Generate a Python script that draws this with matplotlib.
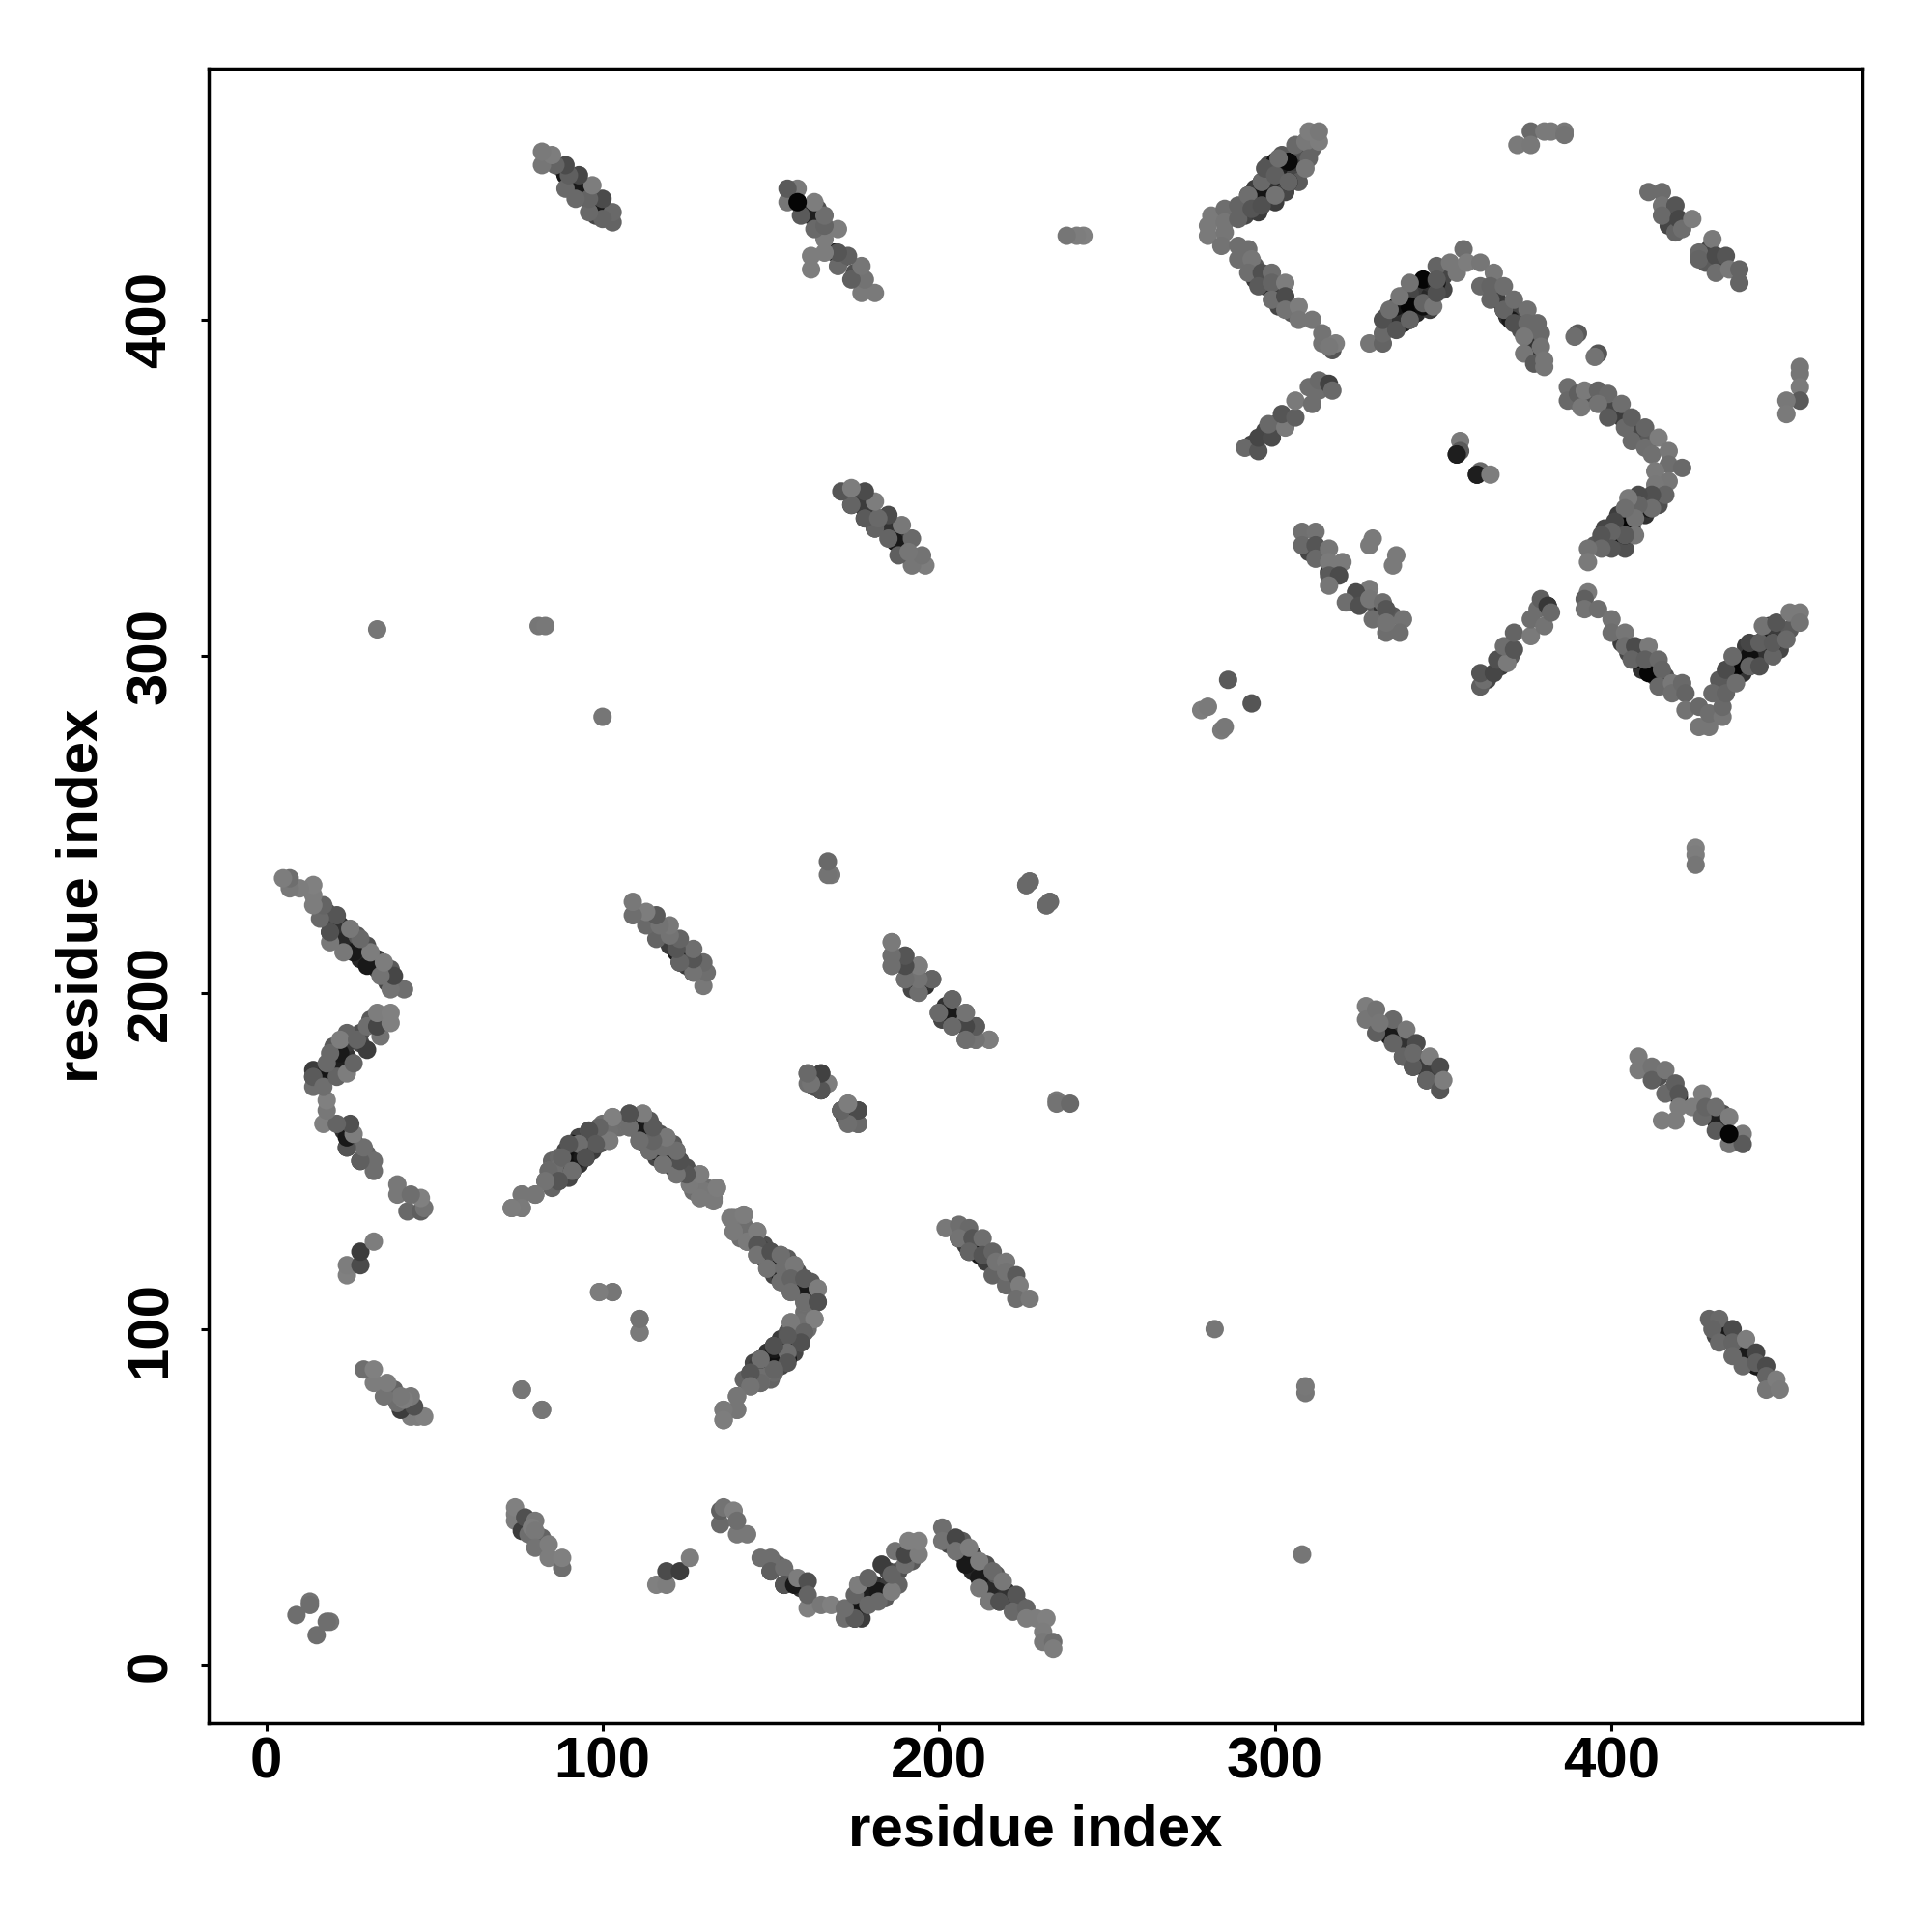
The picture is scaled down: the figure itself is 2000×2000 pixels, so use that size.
import matplotlib
matplotlib.use("Agg")
import matplotlib.pyplot as plt

plt.rcParams['font.family'] = ['Liberation Sans', 'DejaVu Sans']
plt.rcParams['font.weight'] = 'bold'

# contacts as (residue i, residue j, grey level)
# these blocks sit below the diagonal and are mirrored into the upper half
under_hairpin = [(89, 146, 60), (89, 150, 50), (89, 153, 70), (93, 149, 50), (93, 153, 40), (93, 156, 70), (97, 153, 60),
                 (97, 157, 70), (101, 158, 90), (105, 160, 110), (86, 148, 80), (85, 150, 100), (110, 161, 90),
                 (113, 157, 50), (116, 155, 60), (113, 161, 90), (117, 154, 60), (120, 150, 50), (121, 155, 90),
                 (124, 147, 70), (127, 144, 100), (127, 141, 110), (131, 142, 110), (148, 121, 60), (151, 120, 40),
                 (151, 116, 70), (155, 116, 50), (155, 113, 60), (158, 112, 40), (158, 117, 80), (162, 110, 60),
                 (162, 114, 90), (148, 125, 80), (144, 128, 110), (141, 130, 120), (158, 100, 100), (157, 97, 70),
                 (153, 96, 60), (153, 92, 40), (149, 93, 50), (149, 89, 60), (145, 90, 70), (145, 86, 70),
                 (157, 93, 70), (161, 100, 110), (142, 85, 100)]
under_low = [(177, 14, 60), (173, 16, 80), (177, 18, 50), (177, 22, 60), (181, 20, 40), (181, 24, 50), (185, 24, 60),
             (185, 28, 70), (184, 20, 90), (188, 28, 80), (188, 24, 100), (192, 34, 90), (192, 31, 90), (203, 36, 70),
             (207, 33, 50), (207, 37, 90), (210, 33, 60), (210, 28, 40), (214, 30, 80), (214, 25, 40), (217, 22, 40),
             (217, 27, 90), (221, 20, 70), (220, 22, 50), (224, 18, 80), (152, 30, 100), (156, 26, 70), (159, 23, 50),
             (78, 42, 70), (82, 38, 100)]
under_strands = [(333, 189, 60), (336, 188, 60), (339, 184, 50), (343, 180, 50), (347, 177, 60), (344, 178, 60),
                 (434, 98, 50), (438, 94, 50), (441, 91, 50), (445, 88, 70), (431, 98, 70), (414, 175, 80),
                 (418, 171, 70), (433, 160, 60), (433, 164, 80), (429, 165, 90), (208, 125, 60), (211, 125, 50),
                 (214, 120, 60), (218, 118, 90), (222, 115, 100), (188, 209, 70), (192, 206, 60), (196, 202, 50),
                 (192, 201, 70), (206, 192, 60), (209, 188, 70), (163, 174, 70), (163, 172, 80)]
block_corner = [(15, 9, 110), (19, 13, 115), (18, 13, 110)]
block_b = [(74, 45, 125), (74, 43, 125), (76, 40, 60), (78, 39, 110), (74, 47, 128), (77, 44, 80), (80, 43, 120),
           (79, 41, 125), (80, 40, 120), (80, 35, 115), (84, 36, 125), (84, 32, 125), (88, 29, 110), (88, 32, 128)]
block_c = [(116, 24, 128), (119, 24, 125), (119, 28, 75), (123, 28, 60), (126, 32, 125)]
block_d = [(135, 42, 105), (135, 46, 95), (136, 47, 115), (139, 46, 128), (140, 39, 120), (143, 39, 120), (140, 43, 110)]
block_e = [(150, 28, 30), (154, 24, 30), (147, 32, 110), (150, 32, 110), (150, 28, 95), (154, 29, 110), (154, 24, 85),
           (157, 24, 25), (158, 26, 125), (161, 25, 80), (161, 17, 128), (161, 21, 100), (165, 18, 120), (168, 18, 128)]
block_f = [(175, 14, 25), (175, 17, 20), (179, 21, 30), (182, 22, 25), (183, 30, 60), (172, 14, 110), (175, 14, 90),
           (172, 17, 110), (175, 21, 100), (176, 24, 125), (179, 18, 105), (182, 19, 105), (179, 26, 100),
           (186, 22, 125), (186, 27, 100), (187, 34, 115), (190, 30, 110), (190, 33, 70), (194, 33, 125),
           (191, 37, 128), (194, 37, 128)]
block_g = [(208, 30, 25), (212, 26, 25), (215, 22, 40), (218, 19, 30), (201, 41, 110), (201, 37, 115), (205, 38, 70),
           (205, 34, 115), (209, 35, 125), (212, 23, 120), (212, 31, 125), (216, 28, 105), (219, 25, 120),
           (215, 19, 120), (218, 19, 80), (223, 21, 85), (222, 16, 105), (226, 17, 100), (226, 14, 125),
           (229, 14, 125), (232, 14, 128), (231, 10, 125), (231, 7, 120), (234, 7, 110), (234, 5, 125)]
block_h = [(91, 150, 20), (91, 155, 20), (95, 151, 30), (112, 159, 25), (115, 153, 25), (118, 152, 25), (73, 136, 128), (76, 136, 122),
           (76, 140, 122), (80, 140, 120), (83, 144, 115), (87, 144, 85), (84, 147, 120), (87, 151, 105),
           (87, 148, 110), (91, 147, 120), (95, 155, 110), (96, 159, 95), (99, 155, 85), (99, 160, 125),
           (102, 156, 125), (103, 163, 125), (108, 160, 120), (108, 164, 80), (112, 164, 125), (111, 158, 100),
           (115, 160, 100), (111, 156, 110), (114, 153, 110), (119, 157, 122), (118, 149, 110), (122, 153, 110),
           (123, 150, 85), (122, 146, 115), (125, 146, 85), (129, 146, 125), (126, 143, 115), (129, 139, 122),
           (134, 142, 125), (133, 139, 120)]
block_i = [(150, 119, 25), (153, 118, 25), (157, 114, 25), (160, 110, 25), (138, 133, 122), (142, 134, 125), (139, 129, 122),
           (143, 126, 122), (146, 129, 125), (146, 125, 85), (146, 122, 115), (150, 123, 80), (149, 118, 115),
           (153, 122, 110), (153, 114, 110), (154, 118, 110), (157, 119, 120), (156, 115, 100), (156, 111, 110),
           (160, 115, 90), (164, 112, 125), (160, 108, 110), (164, 108, 80)]
block_j = [(147, 91, 25), (151, 90, 15), (155, 91, 20), (151, 94, 25), (155, 94, 25), (159, 102, 112), (163, 103, 128), (156, 102, 122),
           (160, 99, 100), (159, 96, 80), (155, 98, 90), (155, 93, 110), (155, 90, 85), (151, 95, 80), (151, 88, 100),
           (147, 91, 110), (147, 84, 105), (144, 87, 85), (144, 83, 115), (140, 80, 118), (140, 76, 118),
           (136, 76, 122), (136, 73, 125)]
block_k = [(99, 111, 122), (103, 111, 115), (111, 103, 118), (111, 99, 125), (76, 82, 118), (82, 76, 118)]
block_l = [(165, 173, 25), (171, 165, 30), (161, 176, 105), (165, 176, 75), (161, 173, 110), (165, 171, 100), (167, 173, 125),
           (173, 167, 125), (171, 165, 85), (176, 165, 65), (173, 162, 115), (176, 161, 105)]
block_m = [(194, 203, 25), (204, 194, 25), (186, 215, 125), (186, 211, 115), (190, 211, 90), (190, 208, 70), (186, 208, 110),
           (194, 208, 115), (190, 204, 105), (194, 200, 105), (198, 204, 100), (204, 198, 100), (200, 194, 110),
           (204, 194, 115), (208, 194, 125), (204, 190, 110), (208, 190, 75), (211, 190, 85), (208, 186, 110),
           (211, 186, 110), (215, 186, 122)]
block_n = [(227, 233, 105), (226, 232, 105), (233, 227, 105), (232, 226, 105), (235, 168, 120), (235, 167, 115), (239, 167, 105)]
block_o = [(206, 127, 25), (209, 123, 25), (212, 122, 25), (202, 130, 120), (206, 131, 110), (209, 130, 105), (206, 127, 115),
           (210, 127, 85), (213, 127, 110), (209, 123, 100), (213, 122, 85), (216, 123, 100), (216, 116, 100),
           (217, 120, 115), (220, 120, 120), (220, 113, 105), (220, 117, 115), (223, 116, 90), (224, 113, 125),
           (223, 109, 110), (227, 109, 120)]
block_p = [(334, 187, 25), (338, 181, 25), (341, 178, 25), (345, 174, 25), (327, 196, 125), (327, 192, 118), (330, 195, 115), (330, 188, 95),
           (335, 192, 105), (331, 191, 118), (335, 185, 100), (339, 189, 120), (338, 181, 100), (342, 185, 75),
           (341, 178, 90), (341, 182, 105), (346, 181, 125), (345, 174, 100), (349, 178, 75), (349, 171, 85),
           (350, 174, 125)]
block_q = [(420, 169, 25), (431, 162, 30), (435, 158, 5), (408, 181, 122), (408, 177, 122), (412, 178, 115), (412, 174, 95),
           (416, 177, 118), (416, 170, 105), (419, 173, 95), (420, 170, 85), (420, 166, 125), (415, 162, 125),
           (419, 162, 125), (424, 166, 125), (427, 170, 125), (427, 163, 105), (428, 166, 100), (431, 166, 110),
           (431, 159, 90), (435, 155, 118), (439, 158, 122), (439, 155, 90), (435, 163, 125), (435, 158, 5)]
block_r = [(432, 99, 25), (436, 96, 25), (439, 92, 25), (443, 89, 25), (429, 103, 100), (432, 103, 105), (430, 100, 100), (432, 96, 105),
           (436, 100, 75), (436, 96, 100), (436, 92, 105), (439, 89, 105), (440, 97, 125), (443, 93, 70),
           (443, 90, 95), (446, 89, 75), (446, 86, 100), (446, 82, 118), (449, 85, 125), (450, 82, 122)]
block_s = [(308, 33, 118), (282, 100, 118), (309, 81, 118), (309, 83, 120), (425, 243, 128), (425, 241, 125), (425, 238, 118)]

# upper right quadrant, read on both sides of the diagonal, not mirrored
quad_under = [(294, 435, 40), (294, 439, 60), (298, 438, 40), (298, 442, 50), (298, 446, 80), (302, 440, 40),
              (302, 445, 30), (302, 449, 90), (306, 443, 70), (306, 447, 60), (308, 450, 80), (307, 441, 90),
              (291, 431, 70), (295, 432, 60), (300, 435, 60), (303, 438, 70), (311, 451, 100),
              (334, 398, 60), (338, 399, 30), (338, 403, 40), (338, 407, 70), (342, 402, 40), (342, 406, 30),
              (342, 410, 60), (346, 407, 40), (346, 411, 50), (346, 403, 60), (350, 409, 70), (350, 413, 70),
              (333, 401, 90), (336, 400, 50), (340, 408, 70),
              (398, 333, 60), (402, 334, 50), (402, 338, 30), (406, 338, 50), (406, 342, 40), (410, 342, 50),
              (410, 346, 40), (398, 338, 70), (402, 342, 60), (414, 348, 90), (414, 345, 80), (406, 345, 60),
              (404, 332, 80), (395, 333, 90),
              (435, 292, 70), (436, 296, 40), (439, 295, 50), (439, 299, 30), (443, 299, 40), (443, 302, 30),
              (446, 302, 40), (446, 306, 30), (450, 306, 60), (450, 302, 70), (447, 309, 60), (453, 308, 90),
              (432, 293, 90), (440, 303, 60), (444, 300, 50),
              (403, 304, 60), (405, 301, 70), (408, 301, 50), (409, 296, 50), (412, 297, 40), (413, 294, 60),
              (416, 294, 80), (366, 406, 60), (369, 401, 50), (372, 402, 70), (373, 397, 80), (376, 397, 90),
              (377, 392, 50), (294, 412, 60), (297, 410, 40), (301, 408, 60), (301, 404, 70), (305, 402, 90),
              (294, 416, 90), (290, 420, 100), (400, 373, 70), (403, 371, 60), (407, 366, 70), (411, 364, 90),
              (394, 377, 80), (389, 376, 90), (310, 331, 70), (314, 330, 60), (318, 326, 60), (326, 317, 50),
              (330, 315, 90), (335, 312, 90), (297, 367, 70), (300, 369, 90), (293, 363, 70), (363, 293, 70),
              (367, 297, 60), (370, 300, 90), (417, 433, 60), (417, 428, 70), (429, 421, 70), (433, 417, 70),
              (428, 417, 90)]
quad_dark = [(300, 447, 20), (304, 447, 10), (304, 441, 20), (296, 437, 20), (296, 441, 25), (292, 437, 25),
             (336, 404, 20), (340, 404, 5), (344, 412, 5), (340, 400, 20), (344, 404, 15), (348, 411, 25),
             (370, 400, 25), (368, 403, 15), (404, 340, 5), (408, 344, 25), (400, 336, 15), (404, 336, 15),
             (411, 344, 25), (381, 315, 10), (315, 381, 15), (354, 360, 20), (360, 354, 20), (411, 295, 5),
             (407, 299, 15), (415, 292, 20), (437, 297, 5), (441, 300, 15), (444, 304, 10), (448, 304, 5),
             (441, 297, 20), (316, 325, 40), (324, 316, 30), (332, 314, 50)]
quad_arm_up = [(280, 428, 122), (280, 425, 122), (281, 431, 122), (285, 433, 110), (285, 429, 118), (285, 426, 118),
               (284, 422, 115), (289, 434, 100), (289, 430, 100), (292, 437, 110), (293, 433, 85), (296, 434, 80),
               (296, 441, 105), (297, 445, 85), (300, 443, 95), (300, 437, 115), (301, 448, 110), (304, 441, 100),
               (306, 452, 105), (309, 453, 120), (310, 448, 100), (309, 445, 118), (313, 453, 125), (310, 456, 125),
               (313, 456, 120)]
quad_arm_down = [(289, 422, 110), (292, 421, 110), (289, 418, 110), (293, 418, 118), (292, 414, 110), (296, 414, 80),
                 (299, 414, 110), (295, 410, 90), (299, 411, 100), (303, 411, 125), (299, 406, 110), (303, 407, 75),
                 (303, 403, 115), (307, 404, 125), (307, 400, 118), (311, 400, 118), (314, 396, 115), (314, 393, 115),
                 (317, 391, 85), (318, 393, 125), (316, 392, 120)]
quad_peak = [(328, 393, 118), (332, 393, 100), (332, 396, 105), (332, 400, 80), (336, 397, 85), (334, 403, 110),
             (337, 407, 118), (340, 400, 100), (340, 411, 115), (344, 405, 100), (347, 404, 118), (348, 408, 80),
             (348, 416, 100), (348, 412, 90), (352, 417, 120), (354, 414, 120), (356, 421, 110), (357, 417, 125),
             (361, 417, 118), (361, 410, 105), (365, 414, 120), (364, 410, 100), (368, 410, 110), (364, 406, 100),
             (368, 403, 100), (371, 406, 110), (375, 403, 112), (371, 399, 80), (378, 399, 105), (375, 399, 105),
             (379, 396, 105), (374, 395, 120), (374, 390, 118), (379, 392, 115), (377, 387, 90), (380, 388, 118),
             (380, 386, 118)]
quad_spots = [(390, 396, 90), (389, 395, 110), (396, 390, 85), (395, 389, 115), (376, 456, 105), (372, 452, 122),
              (376, 452, 120), (380, 456, 122), (382, 456, 122), (386, 456, 120), (386, 455, 115), (456, 386, 118),
              (456, 384, 118), (456, 380, 122), (456, 376, 90), (452, 376, 120), (452, 372, 122), (355, 364, 122),
              (355, 361, 90), (354, 360, 30), (361, 355, 105), (360, 354, 30), (364, 354, 125), (329, 335, 122),
              (328, 333, 122), (336, 330, 122), (335, 327, 122)]
quad_ne = [(411, 438, 108), (415, 438, 108), (415, 434, 115), (419, 434, 85), (415, 431, 105), (419, 426, 100),
           (420, 430, 70), (421, 427, 110), (424, 430, 125), (426, 420, 105), (426, 418, 100), (430, 424, 122),
           (431, 419, 75), (434, 419, 85), (431, 414, 110), (435, 415, 120), (438, 415, 100), (438, 411, 100)]
quad_arm_low = [(291, 362, 105), (295, 361, 85), (295, 365, 70), (299, 365, 75), (298, 369, 105), (303, 368, 122),
                (302, 372, 85), (306, 371, 95), (306, 376, 122), (311, 375, 110), (310, 380, 110), (313, 379, 110),
                (313, 382, 105), (316, 381, 65), (317, 379, 105)]
quad_arm_right = [(361, 291, 95), (362, 293, 110), (361, 295, 85), (365, 295, 70), (366, 299, 80), (369, 298, 122),
                  (368, 303, 110), (371, 302, 85), (371, 307, 100), (376, 306, 122), (376, 311, 110), (378, 314, 110),
                  (380, 309, 115), (379, 317, 95), (381, 315, 55), (382, 313, 105)]
quad_limb = [(387, 380, 110), (387, 376, 105), (390, 378, 95), (391, 374, 120), (392, 379, 122), (396, 379, 100),
             (399, 378, 105), (396, 375, 115), (399, 371, 90), (403, 375, 110), (404, 368, 105), (406, 371, 95),
             (406, 364, 105), (410, 368, 100), (410, 362, 110), (414, 365, 125), (412, 360, 112), (417, 361, 120),
             (417, 357, 110), (421, 356, 105), (413, 355, 122), (417, 352, 118), (413, 351, 120), (416, 348, 100),
             (412, 348, 80), (412, 344, 110), (408, 348, 75), (408, 345, 100), (405, 347, 122), (407, 341, 115),
             (404, 344, 110), (401, 340, 70), (407, 336, 118), (404, 336, 90), (400, 337, 100), (397, 336, 85),
             (400, 332, 85), (397, 332, 105), (393, 332, 115), (393, 328, 122)]
quad_cross = [(308, 337, 112), (312, 337, 115), (308, 333, 105), (312, 333, 85), (312, 329, 105), (316, 332, 118),
              (316, 328, 122), (320, 328, 122), (316, 324, 90), (319, 324, 75), (316, 321, 118), (328, 320, 122),
              (324, 319, 75), (321, 316, 110), (325, 315, 80), (328, 317, 118), (332, 316, 110), (329, 311, 110),
              (333, 314, 85), (338, 311, 115), (333, 307, 110), (337, 307, 110), (333, 310, 115)]
quad_v = [(393, 319, 122), (392, 317, 95), (392, 314, 115), (396, 314, 110), (400, 311, 115), (400, 307, 110),
          (404, 307, 118), (404, 303, 110), (407, 303, 75), (411, 303, 122), (406, 299, 100), (410, 299, 95),
          (414, 299, 105), (415, 296, 100), (414, 291, 105), (418, 292, 120), (418, 289, 110), (421, 292, 105),
          (422, 289, 100), (422, 284, 115), (426, 285, 105), (426, 279, 118), (429, 279, 118), (429, 283, 110),
          (433, 282, 118), (433, 285, 105), (430, 289, 105), (434, 289, 100), (434, 296, 75), (437, 292, 110),
          (436, 300, 105), (441, 297, 100), (441, 304, 70), (444, 297, 80), (444, 304, 95), (448, 300, 100),
          (445, 309, 115), (448, 304, 90), (452, 305, 105), (449, 310, 85), (453, 313, 122), (456, 313, 122),
          (456, 310, 115)]
quad_four = [(286, 293, 90), (293, 286, 85), (278, 284, 125), (280, 285, 122), (284, 278, 122), (285, 279, 120)]

mirrored_blocks = [under_hairpin, under_low, under_strands, block_corner, block_b, block_c, block_d, block_e, block_f,
                   block_g, block_h, block_i, block_j, block_k, block_l, block_m, block_n, block_o, block_p, block_q,
                   block_r, block_s]
plain_blocks = [quad_under, quad_dark, quad_arm_up, quad_arm_down, quad_peak, quad_spots, quad_ne, quad_arm_low,
                quad_arm_right, quad_limb, quad_cross, quad_v, quad_four]

fig = plt.figure(figsize=(10, 10), dpi=200, facecolor='white')
ax = fig.add_axes([216 / 2000, 216 / 2000, 1712 / 2000, 1713 / 2000])


def draw(block, flip=False):
    xs = [p[1] if flip else p[0] for p in block]
    ys = [p[0] if flip else p[1] for p in block]
    cols = [(p[2] / 255, p[2] / 255, p[2] / 255) for p in block]
    ax.scatter(xs, ys, s=47, c=cols, linewidths=0, zorder=3)


for block in mirrored_blocks:
    draw(block)
    draw(block, flip=True)
for block in plain_blocks:
    draw(block)

ax.set_xlim(-17.1, 474.6)
ax.set_ylim(-17.2, 474.7)
ax.set_xticks([0, 100, 200, 300, 400])
ax.set_yticks([0, 100, 200, 300, 400])
for s in ax.spines.values():
    s.set_linewidth(1.25)
ax.tick_params(length=3, width=1.1, labelsize=21.6)
ax.tick_params(axis='x', pad=1.8)
ax.tick_params(axis='y', pad=8.5)
for t in ax.get_yticklabels():
    t.set_rotation(90)
    t.set_va('center')
ax.set_xlabel('residue index', fontsize=21.6, fontweight='bold', labelpad=5.5)
ax.set_ylabel('residue index', fontsize=21.6, fontweight='bold', labelpad=6)

fig.savefig('out.png', dpi=200)
